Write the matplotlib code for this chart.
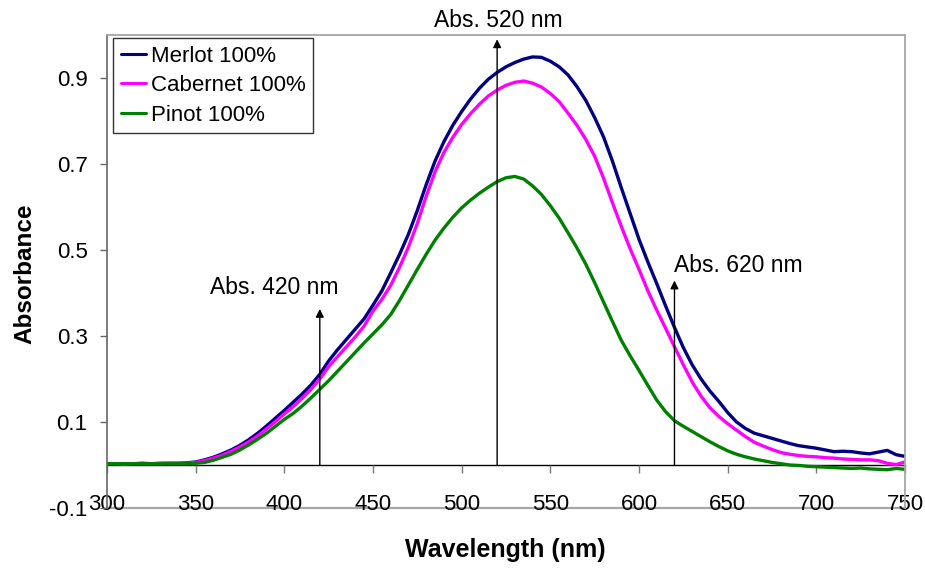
import matplotlib
matplotlib.use("Agg")
import matplotlib.pyplot as plt
import numpy as np

plt.rcParams['font.family'] = ['Liberation Sans', 'DejaVu Sans']

# Wavelength grid (nm), 5 nm steps
wavelength = list(range(300, 755, 5))

merlot = [0.003, 0.003, 0.003, 0.003, 0.004, 0.003, 0.004, 0.004, 0.004, 0.005,
          0.007, 0.012, 0.018, 0.026, 0.035, 0.046, 0.059, 0.074, 0.091, 0.109,
          0.127, 0.146, 0.165, 0.186, 0.211, 0.242, 0.268, 0.292, 0.316, 0.340,
          0.372, 0.405, 0.447, 0.490, 0.537, 0.592, 0.652, 0.707, 0.752, 0.790,
          0.822, 0.851, 0.876, 0.897, 0.913, 0.926, 0.936, 0.944, 0.949, 0.948,
          0.939, 0.926, 0.907, 0.880, 0.848, 0.808, 0.763, 0.707, 0.645, 0.585,
          0.525, 0.472, 0.422, 0.370, 0.320, 0.273, 0.233, 0.200, 0.172, 0.148,
          0.122, 0.100, 0.085, 0.074, 0.068, 0.062, 0.056, 0.050, 0.045, 0.042,
          0.039, 0.035, 0.031, 0.032, 0.031, 0.028, 0.026, 0.030, 0.034, 0.024,
          0.020]

cabernet = [0.003, 0.003, 0.002, 0.003, 0.003, 0.003, 0.003, 0.004, 0.004, 0.004,
            0.006, 0.010, 0.016, 0.023, 0.032, 0.042, 0.054, 0.068, 0.084, 0.101,
            0.119, 0.136, 0.155, 0.176, 0.200, 0.229, 0.252, 0.275, 0.298, 0.323,
            0.358, 0.385, 0.418, 0.460, 0.507, 0.562, 0.625, 0.682, 0.727, 0.762,
            0.792, 0.817, 0.839, 0.858, 0.872, 0.883, 0.890, 0.893, 0.888, 0.879,
            0.864, 0.845, 0.818, 0.790, 0.757, 0.718, 0.667, 0.610, 0.555, 0.503,
            0.455, 0.405, 0.360, 0.318, 0.275, 0.233, 0.193, 0.160, 0.133, 0.113,
            0.096, 0.081, 0.066, 0.053, 0.044, 0.036, 0.029, 0.025, 0.022, 0.020,
            0.019, 0.017, 0.016, 0.014, 0.013, 0.012, 0.012, 0.010, 0.004, 0.001,
            0.007]

pinot = [0.003, 0.003, 0.003, 0.003, 0.003, 0.003, 0.003, 0.003, 0.003, 0.003,
         0.004, 0.006, 0.011, 0.018, 0.025, 0.035, 0.047, 0.060, 0.074, 0.090,
         0.106, 0.120, 0.137, 0.156, 0.176, 0.196, 0.218, 0.240, 0.262, 0.284,
         0.305, 0.326, 0.350, 0.383, 0.419, 0.455, 0.490, 0.523, 0.551, 0.576,
         0.598, 0.616, 0.632, 0.646, 0.659, 0.668, 0.671, 0.665, 0.649, 0.629,
         0.603, 0.574, 0.540, 0.505, 0.467, 0.424, 0.379, 0.334, 0.290, 0.254,
         0.220, 0.185, 0.151, 0.124, 0.103, 0.090, 0.078, 0.066, 0.054, 0.043,
         0.033, 0.025, 0.019, 0.014, 0.010, 0.006, 0.003, 0.000, -0.001, -0.003,
         -0.004, -0.005, -0.006, -0.007, -0.008, -0.007, -0.009, -0.010, -0.011, -0.008,
         -0.010]

series_names = ["Merlot 100%", "Cabernet 100%", "Pinot 100%"]
series_colors = ["#000080", "#FF00FF", "#008000"]

# Marker arrows: wavelength, arrow tip absorbance, label
arrow_nm = [420, 520, 620]
arrow_top = [0.363, 0.99, 0.429]
arrow_labels = ["Abs. 420 nm", "Abs. 520 nm", "Abs. 620 nm"]
label_x = [394.5, 520.5, 656.0]
label_y = [0.398, 1.018, 0.448]

x_ticks = [300, 350, 400, 450, 500, 550, 600, 650, 700, 750]
y_ticks = [-0.1, 0.1, 0.3, 0.5, 0.7, 0.9]

W, H = 925, 568
fig = plt.figure(figsize=(W / 100, H / 100), dpi=100)
ax = fig.add_axes([107 / W, 60 / H, 798 / W, 473 / H])

for vals, name, col in zip([merlot, cabernet, pinot], series_names, series_colors):
    ax.plot(wavelength, vals, color=col, lw=2.4, label=name,
            solid_joinstyle='round', solid_capstyle='round')

ax.set_xlim(300, 750)
ax.set_ylim(-0.1, 1.0)
ax.set_xticks(x_ticks)
ax.set_yticks(y_ticks)
ax.set_yticklabels([f"{v:g}" for v in y_ticks])

frame_col = "#a6a6a6"
for s in ("top", "right"):
    ax.spines[s].set_color(frame_col)
    ax.spines[s].set_linewidth(1.3)
ax.spines["left"].set_color("#666666")
ax.spines["left"].set_linewidth(1.2)
ax.spines["bottom"].set_position(("data", 0))
ax.spines["bottom"].set_color("black")
ax.spines["bottom"].set_linewidth(1.0)
ax.spines["bottom"].set_zorder(1)
ax.axhline(-0.1, color=frame_col, lw=1.6, clip_on=False, zorder=0)

ax.tick_params(axis="x", direction="out", length=6, width=1, color="#777777",
               labelsize=16, pad=15)
ax.tick_params(axis="y", direction="out", length=5, width=1, color="#666666",
               labelsize=16, pad=9)

for xv, top, txt, tx, ty in zip(arrow_nm, arrow_top, arrow_labels, label_x, label_y):
    ax.annotate("", xy=(xv, top), xytext=(xv, 0),
                arrowprops=dict(arrowstyle="-|>", color="black", lw=1.0,
                                mutation_scale=12, shrinkA=0, shrinkB=0),
                zorder=5, annotation_clip=False)
    ax.text(tx, ty, txt, ha="center", va="baseline", fontsize=16.5,
            clip_on=False, zorder=6)

leg = ax.legend(loc="upper left", bbox_to_anchor=(0.0075, 0.994), borderaxespad=0,
                fontsize=16, handlelength=1.15, handletextpad=0.2,
                borderpad=0.35, labelspacing=0.38, frameon=True, fancybox=False)
leg.get_frame().set_edgecolor("black")
leg.get_frame().set_linewidth(1.0)
for line in leg.get_lines():
    line.set_linewidth(2.2)

fig.text(505 / W, 1 - 550 / H, "Wavelength (nm)", ha="center", va="center",
         fontsize=18, fontweight="bold")
fig.text(25 / W, 1 - 274 / H, "Absorbance", ha="center", va="center",
         rotation=90, fontsize=17.5, fontweight="bold")

fig.savefig("out.png", dpi=100)
